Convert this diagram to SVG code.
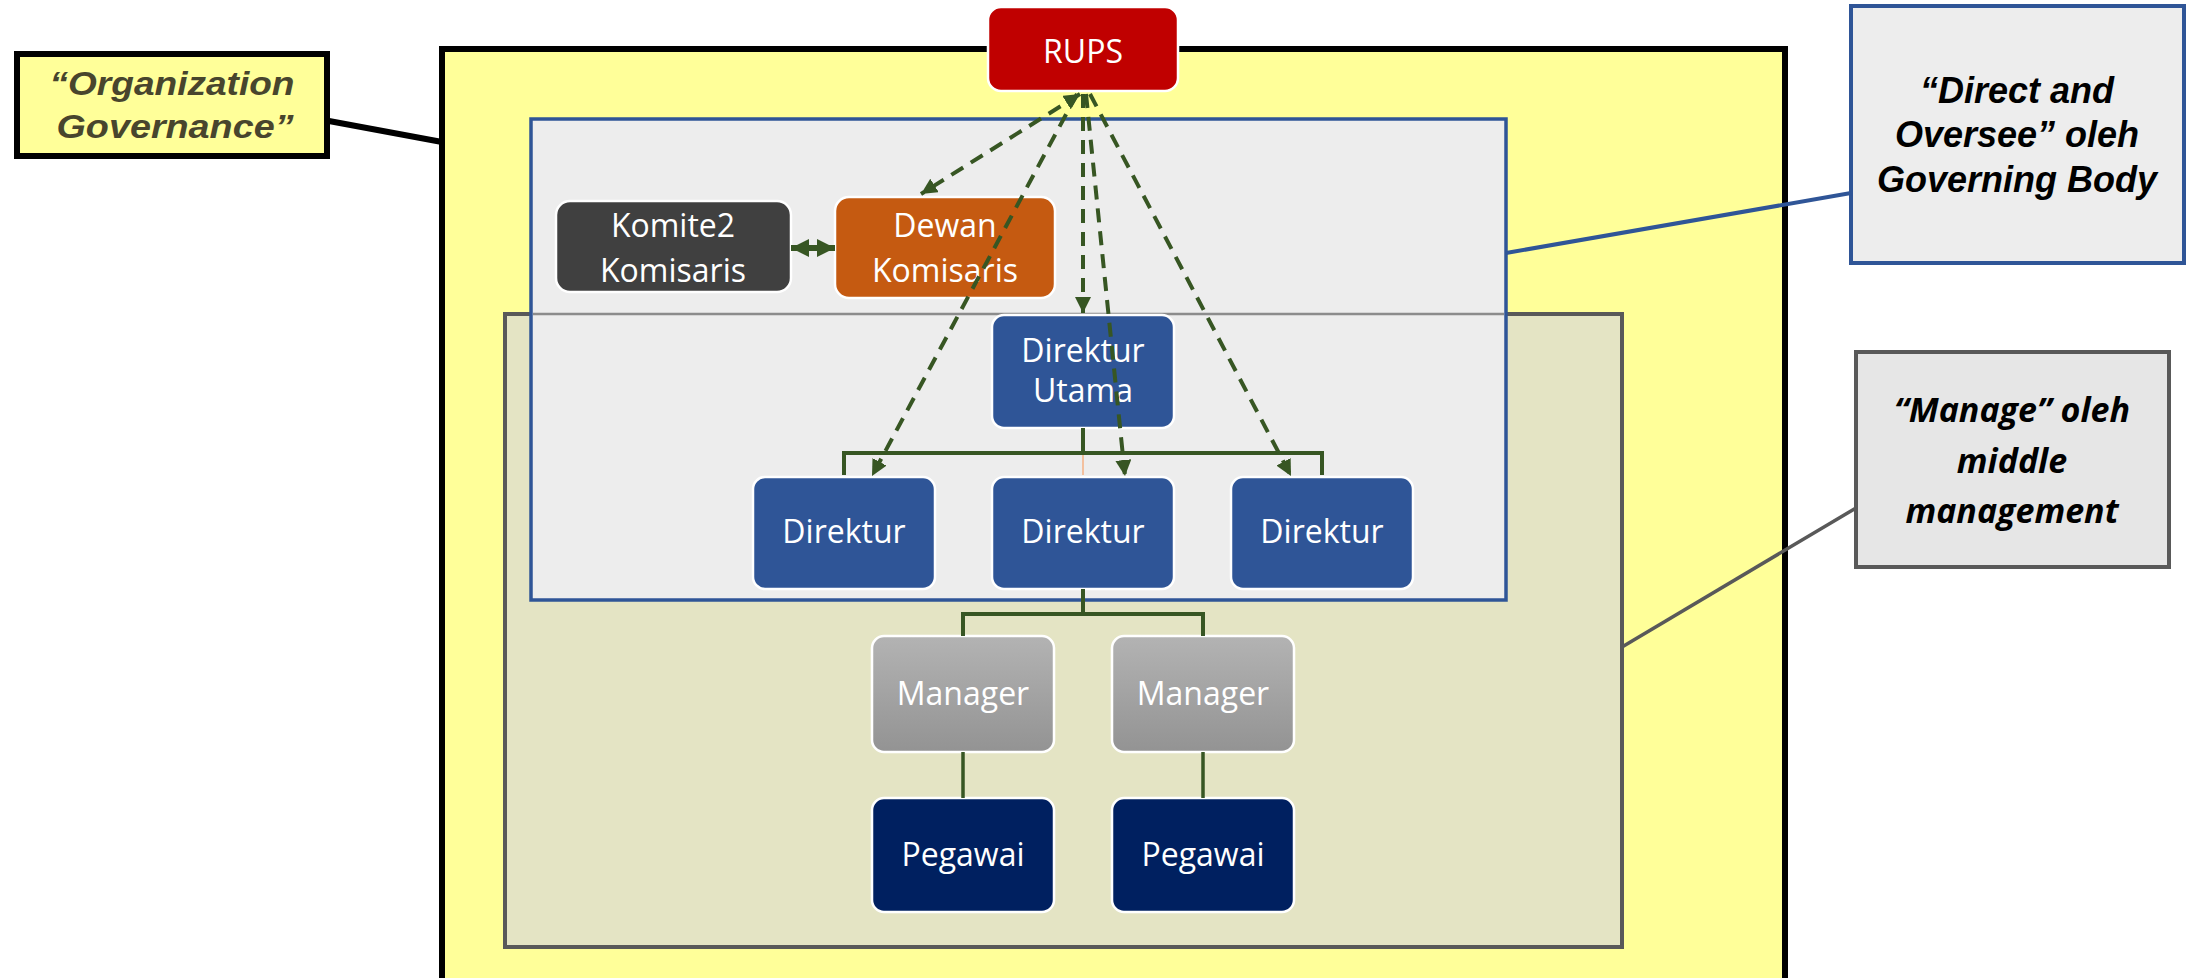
<svg xmlns="http://www.w3.org/2000/svg" width="2188" height="978" viewBox="0 0 2188 978">
  <defs>
    <style>
      .nt { font-family: "Open Sans", "Noto Sans", sans-serif; font-size: 32px; fill: #ffffff; text-anchor: middle; }
      .box { stroke: #ffffff; stroke-width: 2.5; }
      .tree { fill: none; stroke: #375623; stroke-width: 4; }
      .dash { fill: none; stroke: #375623; stroke-width: 4; stroke-dasharray: 14 9; }
      .callA { font-family: "Liberation Sans", Arial, sans-serif; font-weight: bold; font-style: italic; text-anchor: middle; }
      .callB { font-family: "Open Sans", "Noto Sans", sans-serif; font-weight: bold; font-style: italic; text-anchor: middle; font-size: 34px; fill: #000000; }
    </style>
    <linearGradient id="mgr" x1="0" y1="0" x2="0" y2="1">
      <stop offset="0" stop-color="#B3B3B3"/>
      <stop offset="1" stop-color="#939393"/>
    </linearGradient>
    <marker id="ah" viewBox="0 0 16 16" refX="16" refY="8" markerWidth="16" markerHeight="16" markerUnits="userSpaceOnUse" orient="auto-start-reverse">
      <path d="M0,0 L16,8 L0,16 Z" fill="#375623"/>
    </marker>
    <marker id="ah2" viewBox="0 0 16 16" refX="16" refY="8" markerWidth="18" markerHeight="18" markerUnits="userSpaceOnUse" orient="auto-start-reverse">
      <path d="M0,0 L16,8 L0,16 Z" fill="#375623"/>
    </marker>
  </defs>

  <rect width="2188" height="978" fill="#ffffff"/>

  <!-- containers -->
  <g id="organization-governance-area">
    <rect x="442" y="49" width="1343" height="932" fill="#FFFF99" stroke="#000000" stroke-width="6"/>
  </g>
  <g id="management-area">
    <rect x="505" y="314" width="1117" height="633" fill="#E4E4C4" stroke="#595959" stroke-width="4"/>
  </g>
  <g id="governing-body-area">
    <rect x="531" y="119" width="975" height="481" fill="#EDEDED" stroke="#2F5597" stroke-width="3.5"/>
    <line x1="533" y1="314" x2="1504" y2="314" stroke="#8C8C8C" stroke-width="2.5"/>
  </g>

  <!-- callouts -->
  <g id="callout-organization-governance">
    <rect x="17" y="54" width="310" height="102" fill="#FFFF99" stroke="#000000" stroke-width="6"/>
    <text class="callA" x="172" y="95" font-size="34" fill="#48452D" textLength="245" lengthAdjust="spacingAndGlyphs">“Organization</text>
    <text class="callA" x="175" y="138" font-size="34" fill="#48452D" textLength="237" lengthAdjust="spacingAndGlyphs">Governance”</text>
  </g>
  <g id="callout-direct-oversee">
    <rect x="1851" y="6" width="333" height="257" fill="#EDEDED" stroke="#2F5597" stroke-width="4"/>
    <text class="callA" x="2017" y="103" font-size="36" fill="#000000">“Direct and</text>
    <text class="callA" x="2017" y="147" font-size="36" fill="#000000">Oversee” oleh</text>
    <text class="callA" x="2017" y="192" font-size="36" fill="#000000">Governing Body</text>
  </g>
  <g id="callout-manage">
    <rect x="1856" y="352" width="313" height="215" fill="#E6E6E6" stroke="#595959" stroke-width="4"/>
    <text class="callB" x="2012" y="422">“Manage” oleh</text>
    <text class="callB" x="2012" y="473">middle</text>
    <text class="callB" x="2012" y="523">management</text>
  </g>

  <!-- nodes -->
  <g id="rups">
    <rect class="box" x="988" y="7" width="190" height="84" rx="13" fill="#C00000"/>
    <text class="nt" x="1083" y="63" font-size="36">RUPS</text>
  </g>
  <g id="komite-komisaris">
    <rect class="box" x="556" y="201" width="235" height="91" rx="14" fill="#404040"/>
    <text class="nt" x="673" y="237">Komite2</text>
    <text class="nt" x="673" y="282">Komisaris</text>
  </g>
  <g id="dewan-komisaris">
    <rect class="box" x="835" y="197" width="220" height="101" rx="14" fill="#C55A11"/>
    <text class="nt" x="945" y="237">Dewan</text>
    <text class="nt" x="945" y="282">Komisaris</text>
  </g>
  <g id="direktur-utama">
    <rect class="box" x="992" y="315" width="182" height="113" rx="12" fill="#2F5597"/>
    <text class="nt" x="1083" y="362">Direktur</text>
    <text class="nt" x="1083" y="402">Utama</text>
  </g>
  <g id="direktur-1">
    <rect class="box" x="753" y="477" width="182" height="112" rx="12" fill="#2F5597"/>
    <text class="nt" x="844" y="543">Direktur</text>
  </g>
  <g id="direktur-2">
    <rect class="box" x="992" y="477" width="182" height="112" rx="12" fill="#2F5597"/>
    <text class="nt" x="1083" y="543">Direktur</text>
  </g>
  <g id="direktur-3">
    <rect class="box" x="1231" y="477" width="182" height="112" rx="12" fill="#2F5597"/>
    <text class="nt" x="1322" y="543">Direktur</text>
  </g>
  <g id="manager-1">
    <rect class="box" x="872" y="636" width="182" height="116" rx="12" fill="url(#mgr)"/>
    <text class="nt" x="963" y="705">Manager</text>
  </g>
  <g id="manager-2">
    <rect class="box" x="1112" y="636" width="182" height="116" rx="12" fill="url(#mgr)"/>
    <text class="nt" x="1203" y="705">Manager</text>
  </g>
  <g id="pegawai-1">
    <rect class="box" x="872" y="798" width="182" height="114" rx="12" fill="#002060"/>
    <text class="nt" x="963" y="866">Pegawai</text>
  </g>
  <g id="pegawai-2">
    <rect class="box" x="1112" y="798" width="182" height="114" rx="12" fill="#002060"/>
    <text class="nt" x="1203" y="866">Pegawai</text>
  </g>

  <!-- connectors -->
  <g id="connectors">
    <line x1="329" y1="121" x2="442" y2="142" stroke="#000000" stroke-width="6"/>
    <line x1="1506" y1="253" x2="1851" y2="193" stroke="#2F5597" stroke-width="4"/>
    <line x1="1622" y1="647" x2="1856" y2="508" stroke="#595959" stroke-width="3.5"/>

    <path class="tree" d="M1083,428 V453 M844,475 V453 H1322 V475"/>
    <line x1="1083" y1="455" x2="1083" y2="475" stroke="#F4B183" stroke-width="1.5"/>
    <path class="tree" d="M1083,589 V614 M963,636 V614 H1203 V636"/>
    <line x1="963" y1="752" x2="963" y2="798" stroke="#375623" stroke-width="3.5"/>
    <line x1="1203" y1="752" x2="1203" y2="798" stroke="#375623" stroke-width="3.5"/>

    <line x1="835" y1="248" x2="791" y2="248" stroke="#375623" stroke-width="6" marker-start="url(#ah2)" marker-end="url(#ah2)"/>

    <line class="dash" x1="1080" y1="94" x2="921" y2="194" marker-start="url(#ah)" marker-end="url(#ah)"/>
    <line class="dash" x1="1083" y1="94" x2="1083" y2="313" marker-end="url(#ah)"/>
    <line class="dash" x1="1086" y1="94" x2="1125" y2="476" marker-end="url(#ah)"/>
    <line class="dash" x1="1077" y1="94" x2="872" y2="476" marker-end="url(#ah)"/>
    <line class="dash" x1="1090" y1="94" x2="1291" y2="476" marker-end="url(#ah)"/>
  </g>
</svg>
